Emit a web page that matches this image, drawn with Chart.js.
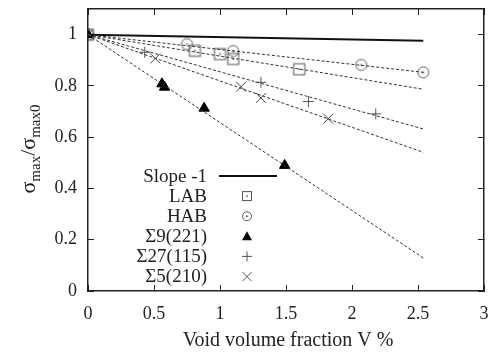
<!DOCTYPE html>
<html>
<head>
<meta charset="utf-8">
<script src="https://cdn.jsdelivr.net/npm/chart.js@4.4.1/dist/chart.umd.min.js"></script>
<style>
  html, body { margin:0; padding:0; background:#fff; }
  #c { display:block; }
</style>
</head>
<body>
<canvas id="c" width="494" height="355"></canvas>
<script>
'use strict';

// ── data ──────────────────────────────────────────
const xTickValues = [0, 0.5, 1, 1.5, 2, 2.5, 3];
const xTickLabels = ['0', '0.5', '1', '1.5', '2', '2.5', '3'];
const yTickValues = [0, 0.2, 0.4, 0.6, 0.8, 1];
const yTickLabels = ['0', '0.2', '0.4', '0.6', '0.8', '1'];

const xLAB = [0, 0.81, 1.0, 1.1, 1.6];
const yLAB = [1, 0.937, 0.924, 0.905, 0.865];
const xHAB = [0, 0.75, 1.1, 2.07, 2.54];
const yHAB = [1, 0.963, 0.936, 0.882, 0.853];
const xS9  = [0, 0.56, 0.58, 0.88, 1.49];
const yS9  = [1, 0.808, 0.795, 0.713, 0.49];
const xS27 = [0, 0.43, 1.31, 1.67, 2.18];
const yS27 = [1, 0.931, 0.814, 0.739, 0.691];
const xS5  = [0, 0.51, 1.16, 1.31, 1.82];
const yS5  = [1, 0.907, 0.797, 0.753, 0.672];

// fitted lines, start and end
const fitX     = [0, 2.54];
const slopeY   = [1, 0.976];
const fitLAB   = [1, 0.787];
const fitHAB   = [1, 0.853];
const fitS9    = [1, 0.129];
const fitS27   = [1, 0.632];
const fitS5    = [1, 0.541];

const seriesNames = ['Slope -1', 'LAB', 'HAB', 'Σ9(221)', 'Σ27(115)', 'Σ5(210)'];

const SERIF = '"Liberation Serif", "DejaVu Serif", serif';
const X_MIN = 0, X_MAX = 3, Y_MIN = 0, Y_MAX = 1.1;
const pts = (xs, ys) => xs.map((x, i) => ({ x, y: ys[i] }));

// ── marker images ─────────────────────────────────
function makeMarker(kind, size) {
  const cv = document.createElement('canvas');
  cv.width = cv.height = size + 4;
  const g = cv.getContext('2d');
  const c = cv.width / 2;
  g.strokeStyle = '#555';
  g.fillStyle = '#555';
  g.lineWidth = 1;
  if (kind === 'square') g.strokeRect(c - size / 2, c - size / 2, size, size);
  else { g.beginPath(); g.arc(c, c, size / 2, 0, Math.PI * 2); g.stroke(); }
  g.beginPath(); g.arc(c, c, 0.9, 0, Math.PI * 2); g.fill();
  return cv;
}
const sqMark = makeMarker('square', 11);
const ciMark = makeMarker('circle', 11);

const fitStyle = { showLine:true, borderColor:'#333', borderWidth:1, borderDash:[3, 2], pointRadius:0, fill:false };

const datasets = [
  { label:'fitLAB', data:pts(fitX, fitLAB), ...fitStyle },
  { label:'fitHAB', data:pts(fitX, fitHAB), ...fitStyle },
  { label:'fitS9',  data:pts(fitX, fitS9),  ...fitStyle },
  { label:'fitS27', data:pts(fitX, fitS27), ...fitStyle },
  { label:'fitS5',  data:pts(fitX, fitS5),  ...fitStyle },
  { label:seriesNames[0], data:pts(fitX, slopeY), showLine:true, borderColor:'#111', borderWidth:2, pointRadius:0 },
  { label:seriesNames[1], data:pts(xLAB, yLAB), pointStyle:sqMark, pointRadius:6 },
  { label:seriesNames[2], data:pts(xHAB, yHAB), pointStyle:ciMark, pointRadius:6 },
  { label:seriesNames[3], data:pts(xS9, yS9), pointStyle:'triangle', pointRadius:6, backgroundColor:'#000', borderColor:'#000', borderWidth:1 },
  { label:seriesNames[4], data:pts(xS27, yS27), pointStyle:'cross', pointRadius:5.5, borderColor:'#555', borderWidth:1 },
  { label:seriesNames[5], data:pts(xS5, yS5), pointStyle:'crossRot', pointRadius:7, borderColor:'#444', borderWidth:1 },
];

// ── titles and legend ─────────────────────────────
const decorPlugin = {
  id: 'decor',
  afterDraw(chart) {
    const ctx = chart.ctx;
    ctx.save();

    // x title
    ctx.fillStyle = '#222';
    ctx.font = '20px ' + SERIF;
    ctx.textAlign = 'center';
    ctx.textBaseline = 'middle';
    ctx.fillText('Void volume fraction V %', 288, 341);

    // y title with subscripts
    ctx.translate(28, 149);
    ctx.rotate(-Math.PI / 2);
    const big = '22px ' + SERIF, small = '15px ' + SERIF;
    const parts = [['σ', big, 0], ['max', small, 5], ['/σ', big, 0], ['max0', small, 5]];
    let total = 0;
    parts.forEach(p => { ctx.font = p[1]; total += ctx.measureText(p[0]).width; });
    let xx = -total / 2;
    ctx.textAlign = 'left';
    ctx.textBaseline = 'alphabetic';
    parts.forEach(p => { ctx.font = p[1]; ctx.fillText(p[0], xx, 7 + p[2]); xx += ctx.measureText(p[0]).width; });
    ctx.setTransform(1, 0, 0, 1, 0, 0);

    // legend
    const textRight = 207, symX = 247, row0 = 176, step = 20.1;
    ctx.font = '19px ' + SERIF;
    ctx.textAlign = 'right';
    ctx.textBaseline = 'middle';
    ctx.setLineDash([]);
    seriesNames.forEach((name, i) => {
      const y = row0 + i * step;
      ctx.fillStyle = '#222';
      ctx.fillText(name, textRight, y + 1);
      ctx.beginPath();
      ctx.lineWidth = 1;
      ctx.strokeStyle = '#555';
      ctx.fillStyle = '#555';
      if (i === 0) {
        ctx.fillStyle = '#111';
        ctx.fillRect(219, Math.round(y) - 1, 58, 2);
      } else if (i === 1) {
        ctx.strokeRect(symX - 4.5, y - 4.5, 9, 9);
        ctx.arc(symX, y, 0.9, 0, Math.PI * 2); ctx.fill();
      } else if (i === 2) {
        ctx.arc(symX, y, 4.5, 0, Math.PI * 2); ctx.stroke();
        ctx.beginPath(); ctx.arc(symX, y, 0.9, 0, Math.PI * 2); ctx.fill();
      } else if (i === 3) {
        ctx.fillStyle = '#000';
        ctx.moveTo(symX, y - 5); ctx.lineTo(symX + 5, y + 4); ctx.lineTo(symX - 5, y + 4); ctx.closePath(); ctx.fill();
      } else if (i === 4) {
        ctx.moveTo(symX - 5, y); ctx.lineTo(symX + 5, y);
        ctx.moveTo(symX, y - 5); ctx.lineTo(symX, y + 5); ctx.stroke();
      } else {
        ctx.moveTo(symX - 4.5, y - 4.5); ctx.lineTo(symX + 4.5, y + 4.5);
        ctx.moveTo(symX + 4.5, y - 4.5); ctx.lineTo(symX - 4.5, y + 4.5); ctx.stroke();
      }
    });
    ctx.restore();
  }
};

// inward tick marks via negative tick length, frame via axis borders
const frameGrid = { display: true, drawOnChartArea: false, drawTicks: true, tickLength: -6, color: '#222', lineWidth: 1 };
const frameBorder = { display: true, color: '#222', width: 1.5 };
const setXTicks = s => { s.ticks = xTickValues.map(v => ({ value: v })); };
const setYTicks = s => { s.ticks = yTickValues.map(v => ({ value: v })); };

new Chart(document.getElementById('c'), {
  type: 'scatter',
  data: { datasets },
  options: {
    responsive: false,
    animation: false,
    devicePixelRatio: 1,
    layout: { padding: { top: 9, right: 10, left: 0, bottom: 0 } },
    plugins: { legend: { display: false }, tooltip: { enabled: false } },
    scales: {
      x: {
        type: 'linear', position: 'bottom', min: X_MIN, max: X_MAX,
        grid: frameGrid, border: frameBorder,
        afterBuildTicks: setXTicks,
        afterFit: s => { s.height = 64; s.paddingLeft = 0; s.paddingRight = 0; },
        ticks: { padding: 18, color: '#222', font: { family: SERIF, size: 18 }, maxRotation: 0,
                 callback: (v, i) => xTickLabels[i] }
      },
      x2: {
        type: 'linear', position: 'top', min: X_MIN, max: X_MAX,
        grid: frameGrid, border: frameBorder,
        afterBuildTicks: setXTicks,
        afterFit: s => { s.height = 0; s.paddingLeft = 0; s.paddingRight = 0; },
        ticks: { display: false }
      },
      y: {
        type: 'linear', position: 'left', min: Y_MIN, max: Y_MAX,
        grid: frameGrid, border: frameBorder,
        afterBuildTicks: setYTicks,
        afterFit: s => { s.width = 88; s.paddingTop = 0; s.paddingBottom = 0; },
        ticks: { padding: 17, color: '#222', font: { family: SERIF, size: 18 },
                 callback: (v, i) => yTickLabels[i] }
      },
      y2: {
        type: 'linear', position: 'right', min: Y_MIN, max: Y_MAX,
        grid: frameGrid, border: frameBorder,
        afterBuildTicks: setYTicks,
        afterFit: s => { s.width = 0; s.paddingTop = 0; s.paddingBottom = 0; },
        ticks: { display: false }
      }
    }
  },
  plugins: [decorPlugin]
});
</script>
</body>
</html>
